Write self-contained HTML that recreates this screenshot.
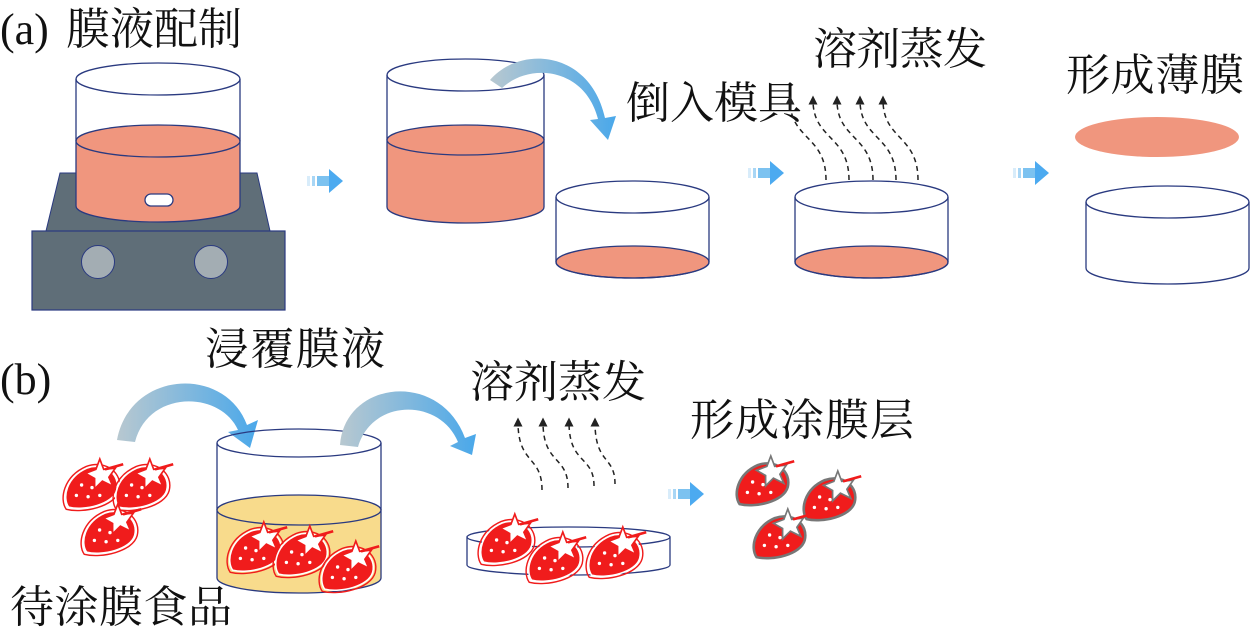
<!DOCTYPE html>
<html><head><meta charset="utf-8"><style>
html,body{margin:0;padding:0;background:#fff;}
svg{display:block}
text{font-family:"Liberation Serif","Noto Serif CJK SC","Noto Serif CJK JP",serif;fill:#111;}
</style></head><body>
<svg width="1260" height="635" viewBox="0 0 1260 635" xmlns="http://www.w3.org/2000/svg">
<defs>
<linearGradient id="ga" x1="0" x2="1" y1="0" y2="0">
<stop offset="0" stop-color="#5fb4ea" stop-opacity="0.1"/><stop offset="1" stop-color="#45a9ef"/></linearGradient>
<linearGradient id="gc" x1="0" x2="1" y1="0" y2="0">
<stop offset="0" stop-color="#b8c8d0"/><stop offset="1" stop-color="#4aa8ea"/></linearGradient>
<g id="arr">
<rect x="0" y="-5" width="3" height="10" fill="#d8ecfa"/>
<rect x="5" y="-5" width="3" height="10" fill="#a8d6f5"/>
<rect x="10" y="-5" width="14" height="10" fill="#7cc2f0"/>
<polygon points="22,-12 36,0 22,12" fill="#4caaf0"/>
</g>
<g id="sb" transform="scale(1.3)">
<path d="M-4,-13 C10,-18 22,-8 19,4 C16,15 -6,20 -18,17 C-23,10 -20,-6 -4,-13 Z" fill="#f01c1c" stroke="#fff" stroke-width="1.2"/>
<path d="M-4,-13 C10,-18 22,-8 19,4 C16,15 -6,20 -18,17 C-23,10 -20,-6 -4,-13 Z" fill="none" stroke="#f01c1c" stroke-width="1" transform="scale(1.1)"/>
<polygon points="6,-20 9,-12 18,-13 13,-6 16,1 8,-3 2,3 2,-5 -5,-9 3,-12" fill="#fff" stroke="#f01c1c" stroke-width="1.3"/>
<path d="M10,-12 L24,-16" stroke="#f01c1c" stroke-width="2" fill="none"/>
<circle cx="-8" cy="0" r="1.3" fill="#fff"/><circle cx="0" cy="2" r="1.3" fill="#fff"/>
<circle cx="-12" cy="8" r="1.3" fill="#fff"/><circle cx="-3" cy="9" r="1.3" fill="#fff"/><circle cx="6" cy="8" r="1.3" fill="#fff"/>
</g>
<g id="sbg" transform="scale(1.3)">
<path d="M-4,-13 C10,-18 22,-8 19,4 C16,15 -6,20 -18,17 C-23,10 -20,-6 -4,-13 Z" fill="#f01c1c" stroke="#777" stroke-width="2"/>
<polygon points="6,-20 9,-12 18,-13 13,-6 16,1 8,-3 2,3 2,-5 -5,-9 3,-12" fill="#fff" stroke="#777" stroke-width="1.3"/>
<path d="M10,-12 L24,-16" stroke="#f01c1c" stroke-width="2" fill="none"/>
<circle cx="-8" cy="0" r="1.3" fill="#fff"/><circle cx="0" cy="2" r="1.3" fill="#fff"/>
<circle cx="-12" cy="8" r="1.3" fill="#fff"/><circle cx="-3" cy="9" r="1.3" fill="#fff"/><circle cx="6" cy="8" r="1.3" fill="#fff"/>
</g>
<marker id="mh" markerWidth="6" markerHeight="6" refX="3" refY="3" orient="auto"><path d="M0,0 L6,3 L0,6 Z" fill="#222"/></marker>
</defs>

<!-- (a) -->
<text x="0" y="44" font-size="44" font-family="Liberation Serif, serif">(a)</text>
<text x="66" y="44" font-size="44" textLength="176">膜液配制</text>
<polygon points="60,173 257,173 270,231 46,231" fill="#5f6e78" stroke="#2a3a80" stroke-width="1"/>
<rect x="32" y="231" width="253" height="79" fill="#5f6e78" stroke="#2a3a80" stroke-width="1.2"/>
<circle cx="98" cy="262" r="16.5" fill="#a3adb3" stroke="#2a3a80" stroke-width="1"/>
<circle cx="211" cy="262" r="16.5" fill="#a3adb3" stroke="#2a3a80" stroke-width="1"/>
<g stroke="#2a3a80" stroke-width="1.3">
<path d="M76,141 L76,206 A82,16 0 0 0 240,206 L240,141 Z" fill="#f0967e"/>
<ellipse cx="158" cy="141" rx="82" ry="16" fill="#f0967e"/>
<line x1="76" y1="79" x2="76" y2="141"/><line x1="240" y1="79" x2="240" y2="141"/>
<ellipse cx="158" cy="79" rx="82" ry="16" fill="none"/>
<rect x="145" y="194" width="28" height="12" rx="6" fill="#fff"/>
</g>
<use href="#arr" x="307" y="181"/>
<g stroke="#2a3a80" stroke-width="1.3">
<path d="M387,140 L387,207 A78.5,16 0 0 0 544,207 L544,140 Z" fill="#f0967e"/>
<ellipse cx="465.5" cy="140" rx="78.5" ry="15" fill="#f0967e"/>
<line x1="387" y1="75" x2="387" y2="140"/><line x1="544" y1="75" x2="544" y2="140"/>
<ellipse cx="465.5" cy="75" rx="78.5" ry="16" fill="none"/>
</g>
<path d="M490,80 C520,45 590,50 605,118 L616,116 L608,140 L590,120 L598,119 C585,68 530,62 502,88 Z" fill="url(#gc)"/>
<text x="626" y="118" font-size="44" textLength="176">倒入模具</text>
<g stroke="#2a3a80" stroke-width="1.3">
<ellipse cx="632.5" cy="262" rx="76.5" ry="16" fill="#f0967e"/>
<line x1="556" y1="197" x2="556" y2="262"/><line x1="709" y1="197" x2="709" y2="262"/>
<path d="M556,262 A76.5,16 0 0 0 709,262" fill="none"/>
<ellipse cx="632.5" cy="197" rx="76.5" ry="16" fill="none"/>
</g>
<use href="#arr" x="748" y="173"/>
<text x="813" y="64" font-size="44" textLength="174">溶剂蒸发</text>
<g stroke="#222" stroke-width="1.5" stroke-dasharray="5,4" fill="none" marker-end="url(#mh)">
<path d="M826,180 C826,135 790,140 790,100"/>
<path d="M849,180 C849,135 813,140 813,100"/>
<path d="M873,180 C873,135 837,140 837,100"/>
<path d="M896,180 C896,135 860,140 860,100"/>
<path d="M918,180 C918,135 883,140 883,100"/>
</g>
<g stroke="#2a3a80" stroke-width="1.3">
<ellipse cx="871.5" cy="262" rx="76.5" ry="16" fill="#f0967e"/>
<line x1="795" y1="197" x2="795" y2="262"/><line x1="948" y1="197" x2="948" y2="262"/>
<path d="M795,262 A76.5,16 0 0 0 948,262" fill="none"/>
<ellipse cx="871.5" cy="197" rx="76.5" ry="16" fill="none"/>
</g>
<use href="#arr" x="1013" y="173"/>
<text x="1066" y="90" font-size="44" textLength="178">形成薄膜</text>
<ellipse cx="1157" cy="137" rx="82" ry="20" fill="#f0967e"/>
<g stroke="#2a3a80" stroke-width="1.3" fill="none">
<line x1="1086" y1="202" x2="1086" y2="268"/><line x1="1249" y1="202" x2="1249" y2="268"/>
<path d="M1086,268 A81.5,16 0 0 0 1249,268"/>
<ellipse cx="1167.5" cy="202" rx="81.5" ry="16"/>
</g>

<!-- (b) -->
<text x="0" y="394" font-size="44" font-family="Liberation Serif, serif">(b)</text>
<text x="205" y="364" font-size="44" textLength="180">浸覆膜液</text>
<path d="M117,440 C130,370 225,365 247,425 L258,420 L250,448 L228,432 L238,430 C220,390 148,390 135,442 Z" fill="url(#gc)"/>
<use href="#sb" x="92" y="485"/>
<use href="#sb" x="142" y="485"/>
<use href="#sb" x="110" y="530"/>
<g stroke="#2a3a80" stroke-width="1.3">
<path d="M217,510 L217,578 A82,15 0 0 0 381,578 L381,510 Z" fill="#f8db8c"/>
<ellipse cx="299" cy="510" rx="82" ry="15" fill="#f8db8c"/>
<line x1="217" y1="443" x2="217" y2="510"/><line x1="381" y1="443" x2="381" y2="510"/>
<ellipse cx="299" cy="443" rx="82" ry="14" fill="none"/>
</g>
<use href="#sb" x="256" y="548"/>
<use href="#sb" x="302" y="552"/>
<use href="#sb" x="348" y="567"/>
<path d="M340,445 C345,380 440,370 465,438 L476,434 L472,455 L450,446 L458,442 C440,398 372,398 358,447 Z" fill="url(#gc)"/>
<text x="470" y="397" font-size="44" textLength="176">溶剂蒸发</text>
<g stroke="#222" stroke-width="1.5" stroke-dasharray="5,4" fill="none" marker-end="url(#mh)">
<path d="M542,490 C542,455 518,465 518,422"/>
<path d="M568,488 C568,455 543,465 543,422"/>
<path d="M594,486 C594,455 569,465 569,422"/>
<path d="M615,484 C615,455 595,465 595,422"/>
</g>
<g stroke="#2a3a80" stroke-width="1.3" fill="none">
<line x1="467" y1="537" x2="467" y2="565"/><line x1="670" y1="537" x2="670" y2="565"/>
<path d="M467,565 A101.5,10 0 0 0 670,565"/>
<ellipse cx="568.5" cy="537" rx="101.5" ry="10"/>
</g>
<use href="#sb" x="507" y="540"/>
<use href="#sb" x="555" y="558"/>
<use href="#sb" x="615" y="553"/>
<use href="#arr" x="668" y="494"/>
<text x="690" y="435" font-size="44" textLength="224">形成涂膜层</text>
<use href="#sbg" x="763" y="482"/>
<use href="#sbg" x="830" y="497"/>
<use href="#sbg" x="780" y="535"/>
<text x="10" y="622" font-size="44" textLength="222">待涂膜食品</text>
</svg>
</body></html>
